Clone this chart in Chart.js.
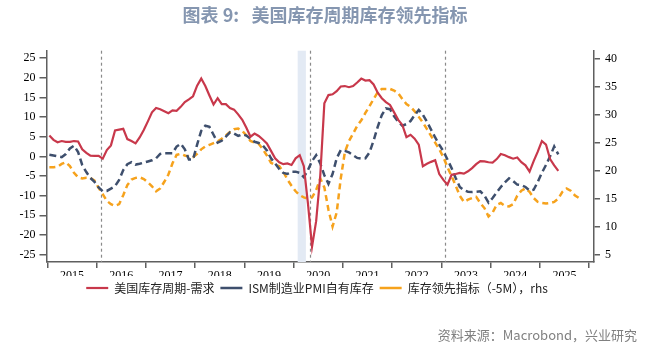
<!DOCTYPE html>
<html>
<head>
<meta charset="utf-8">
<script src="https://cdn.jsdelivr.net/npm/chart.js@4.4.1/dist/chart.umd.min.js"></script>
<style>
  html, body { margin: 0; padding: 0; background: #fff; }
  #wrap { position: relative; width: 668px; height: 348px; overflow: hidden; }
  #title {
    position: absolute; left: 0; top: 2px; width: 650px; text-align: center;
    font-family: "Noto Sans CJK SC", sans-serif; font-weight: bold; font-size: 18px;
    line-height: 24px; color: #8596b0;
  }
  #source {
    position: absolute; right: 31px; top: 326px;
    font-family: "Noto Sans CJK SC", sans-serif; font-size: 13px; line-height: 18px; color: #808080;
  }
  canvas { position: absolute; left: 0; top: 0; }
</style>
</head>
<body>
<div id="wrap">
  <canvas id="chart" width="668" height="348"></canvas>
  <div id="title">图表 9:&nbsp;&nbsp; 美国库存周期库存领先指标</div>
  <div id="source">资料来源：Macrobond，兴业研究</div>
</div>
<script>
// months counted from Jan 2015 (0 = 2015-01)
const yearLabels = ['2015', '2016', '2017', '2018', '2019', '2020', '2021', '2022', '2023', '2024', '2025'];
const leftTicks = [-25, -20, -15, -10, -5, 0, 5, 10, 15, 20, 25];
const rightTicks = [5, 10, 15, 20, 25, 30, 35, 40];
const eventMonths = [13, 64, 97];      // grey dashed verticals
const recessionMonths = [61, 63];      // shaded band

// 美国库存周期-需求 (lhs), monthly from 2015-01
const demandCycle = [
  5.3, 4.2, 3.6, 3.9, 3.7, 3.7, 3.9, 3.8, 1.8, 0.9,
  0.2, 0.1, 0.1, -0.6, 1.6, 2.8, 6.6, 6.8, 7.0, 4.4,
  3.9, 3.3, 4.8, 6.7, 8.9, 11.2, 12.3, 12.0, 11.5, 11.0,
  11.7, 11.6, 12.6, 13.8, 14.5, 15.3, 18.0, 19.8, 17.9, 15.5,
  13.2, 14.8, 13.3, 13.3, 12.3, 11.9, 10.7, 9.3, 7.3, 5.0,
  5.8, 5.2, 4.3, 3.3, 1.4, -0.5, -1.5, -2.0, -1.8, -2.2,
  -0.5, 0.3, -2.5, -12.0, -23.0, -16.5, -5.0, 13.5, 15.6, 15.8,
  16.6, 17.8, 17.9, 17.6, 17.9, 18.8, 19.8, 19.3, 19.4, 18.3,
  16.2, 14.8, 13.8, 13.1, 11.2, 9.3, 8.0, 4.9, 5.5, 4.5,
  3.0, -2.5, -1.9, -1.4, -1.0, -4.5, -6.0, -7.2, -4.7, -4.5,
  -4.2, -4.4, -3.8, -3.0, -2.0, -1.2, -1.3, -1.5, -1.6, -0.7,
  0.6, 0.3, -0.2, -0.6, -0.3, -1.5, -2.3, -3.9, -1.2, 1.2,
  3.9, 3.0, -0.7, -2.3, -3.7
];

// ISM制造业PMI自有库存 (lhs)
const ismInventory = [
  0.4, 0.2, 0.0, -0.2, 0.6, 2.0, 2.7, 1.1, -2.2, -4.0,
  -5.5, -6.5, -7.9, -8.9, -8.8, -8.2, -7.6, -6.0, -3.5, -2.0,
  -1.5, -2.1, -1.9, -1.6, -1.3, -1.0, -0.5, 0.6, 0.8, 0.8,
  0.8, 2.5, 3.2, 1.8, -0.8, -0.8, 3.0, 6.5, 7.8, 7.5,
  5.5, 3.5, 4.0, 5.0, 6.1, 5.8, 5.2, 5.6, 5.3, 4.5,
  3.7, 3.4, 2.8, 1.5, -0.5, -1.8, -3.2, -4.2, -4.5, -3.9,
  -3.9, -4.2, -5.3, -3.5, -1.2, 0.3, -1.8, -4.8, -7.0, -4.5,
  -0.5, 1.6, 1.4, 1.0, 0.3, -0.4, -0.6, -0.5, 1.0, 4.0,
  7.5, 10.5, 12.2, 12.0, 10.2, 8.8, 7.8, 8.2, 9.0, 10.5,
  11.8, 10.6, 8.8, 6.8, 4.8, 3.0, 1.3, -0.8, -3.0, -5.5,
  -7.8, -8.6, -9.0, -9.1, -9.0, -8.9, -10.0, -11.8, -10.6, -9.2,
  -7.8, -6.6, -5.6, -6.3, -7.2, -7.3, -7.8, -8.7, -8.5, -6.5,
  -4.2, -2.2, 0.0, 2.5, 0.5
];

// 库存领先指标（-5M），rhs
const leadIndicator = [
  20.6, 20.6, 20.7, 21.2, 21.5, 20.8, 19.6, 18.8, 18.6, 18.7,
  18.7, 18.2, 16.9, 15.8, 14.6, 14.0, 13.7, 14.0, 15.6, 17.4,
  18.4, 18.7, 18.8, 18.5, 17.9, 17.2, 16.3, 16.8, 18.0, 19.3,
  21.3, 22.8, 23.0, 22.7, 22.5, 22.4, 23.0, 23.8, 24.3, 24.6,
  24.9, 25.2, 25.7, 26.3, 26.9, 27.4, 27.5, 27.1, 26.3, 25.3,
  25.0, 24.8, 23.8, 22.7, 21.4, 21.0, 20.8, 19.8, 18.4, 17.3,
  16.3, 15.6, 15.2, 15.0, 15.2, 16.5, 18.6, 17.0, 13.0, 10.0,
  12.5, 18.6, 23.3, 25.3, 26.6, 28.0, 29.0, 30.3, 31.5, 32.8,
  34.0, 34.6, 34.6, 34.6, 34.3, 33.8, 32.8, 31.9, 31.4, 30.6,
  29.6, 28.6, 27.4, 26.2, 25.0, 23.8, 22.4, 20.6, 19.0, 17.3,
  15.5, 14.4, 14.8, 15.1, 15.3, 14.2, 13.3, 11.8, 12.5, 13.9,
  14.2, 13.7, 13.6, 14.0, 15.5, 16.4, 16.8, 16.2, 15.1, 14.4,
  14.2, 14.1, 14.2, 14.4, 15.0, 16.2, 16.8, 16.4, 15.6, 15.1
];

// put each monthly value at mid-month
const toPoints = arr => arr.map((v, i) => ({ x: i + 0.5, y: v }));

const axisGrey = '#5f5f5f';
const tickFont = { family: "'Liberation Serif', 'Times New Roman', serif", size: 12 };

// recession band + dashed event lines, drawn under the series
const markers = {
  id: 'markers',
  beforeDatasetsDraw(chart) {
    const { ctx, chartArea: a, scales: { x } } = chart;
    ctx.save();
    const x0 = x.getPixelForValue(recessionMonths[0]);
    const x1 = x.getPixelForValue(recessionMonths[1]);
    ctx.fillStyle = '#e3eaf4';
    ctx.fillRect(x0, a.top, x1 - x0, a.bottom - a.top);
    ctx.strokeStyle = '#8a8a8a';
    ctx.lineWidth = 1.2;
    ctx.setLineDash([3, 3]);
    eventMonths.forEach(m => {
      const px = Math.round(x.getPixelForValue(m)) + 0.5;
      ctx.beginPath();
      ctx.moveTo(px, a.top);
      ctx.lineTo(px, a.bottom);
      ctx.stroke();
    });
    ctx.restore();
  }
};

new Chart(document.getElementById('chart'), {
  type: 'line',
  data: {
    datasets: [
      {
        label: '美国库存周期-需求',
        data: toPoints(demandCycle),
        borderColor: '#c8384b',
        backgroundColor: '#c8384b',
        borderWidth: 2.2,
        yAxisID: 'yL'
      },
      {
        label: 'ISM制造业PMI自有库存',
        data: toPoints(ismInventory),
        borderColor: '#3e4f6d',
        backgroundColor: '#3e4f6d',
        borderWidth: 2.5,
        borderDash: [7, 4],
        yAxisID: 'yL'
      },
      {
        label: '库存领先指标（-5M），rhs',
        data: toPoints(leadIndicator),
        borderColor: '#f6a21c',
        backgroundColor: '#f6a21c',
        borderWidth: 2.5,
        borderDash: [6, 4],
        yAxisID: 'yR'
      }
    ]
  },
  options: {
    responsive: false,
    animation: false,
    events: [],
    elements: { point: { radius: 0 }, line: { tension: 0 } },
    layout: { padding: { top: 50.7, left: 0, right: 34, bottom: 44 } },
    plugins: {
      tooltip: { enabled: false },
      legend: {
        position: 'bottom',
        labels: {
          usePointStyle: true,
          pointStyle: 'line',
          pointStyleWidth: 22,
          boxHeight: 12,
          padding: 6,
          color: '#222',
          font: { family: "'Noto Sans CJK SC', sans-serif", size: 12 }
        }
      }
    },
    scales: {
      x: {
        type: 'linear',
        min: -0.2,
        max: 133.2,
        afterBuildTicks: s => {
          const t = [];
          for (let v = 0; v <= yearLabels.length * 12; v += 6) t.push({ value: v });
          s.ticks = t;
        },
        afterFit: s => { s.height = 14; },
        ticks: {
          autoSkip: false,
          maxRotation: 0,
          padding: 1,
          color: '#000',
          font: tickFont,
          callback: v => (v % 12 === 6 ? yearLabels[(v - 6) / 12] : '')
        },
        grid: {
          drawOnChartArea: false,
          tickLength: 6,
          lineWidth: 1.5,
          color: c => (c.tick && c.tick.value % 12 === 0 ? axisGrey : 'rgba(0,0,0,0)')
        },
        border: { color: axisGrey, width: 1.5 }
      },
      yL: {
        position: 'left',
        min: -26.9,
        max: 26.9,
        afterBuildTicks: s => { s.ticks = leftTicks.map(v => ({ value: v })); },
        afterFit: s => { s.width = 46.5; },
        ticks: { color: '#000', font: tickFont, padding: 4 },
        grid: { drawOnChartArea: false, tickLength: 7, lineWidth: 1.5, color: axisGrey },
        border: { color: axisGrey, width: 1.5 }
      },
      yR: {
        position: 'right',
        min: 3.66,
        max: 41.43,
        afterBuildTicks: s => { s.ticks = rightTicks.map(v => ({ value: v })); },
        afterFit: s => { s.width = 40; },
        ticks: { color: '#000', font: tickFont, padding: 5 },
        grid: { drawOnChartArea: false, tickLength: 6, lineWidth: 1.5, color: axisGrey },
        border: { color: axisGrey, width: 1.5 }
      }
    }
  },
  plugins: [markers]
});
</script>
</body>
</html>
